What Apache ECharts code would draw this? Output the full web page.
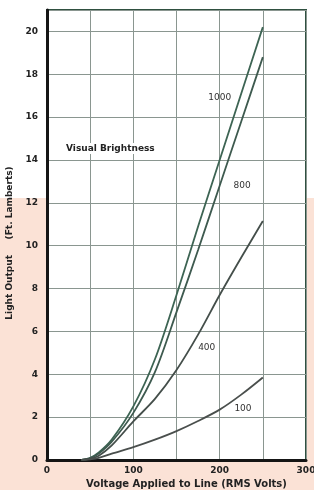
<!DOCTYPE html>
<html>
<head>
<meta charset="utf-8">
<script src="https://cdn.jsdelivr.net/npm/echarts@6/dist/echarts.min.js"></script>
<style>
  html, body { margin: 0; padding: 0; }
  #main { width: 314px; height: 490px; }
</style>
</head>
<body>
<div id="main"></div>
<script>
// voltage applied to line (RMS volts)
var voltage = [40, 50, 60, 75, 100, 125, 150, 175, 200, 225, 250];
// light output (ft. lamberts), one array per curve
var fc1000 = [0, 0.1, 0.35, 0.95, 2.5, 4.7, 7.7, 10.9, 14.0, 17.1, 20.2];
var fc800 = [0, 0.08, 0.3, 0.85, 2.2, 4.1, 6.9, 9.8, 12.8, 15.8, 18.8];
var fc400 = [0, 0.06, 0.2, 0.68, 1.8, 2.85, 4.2, 5.85, 7.7, 9.45, 11.15];
var fc100 = [0, 0.03, 0.1, 0.3, 0.6, 0.95, 1.35, 1.82, 2.35, 3.05, 3.85];
var curveNames = ['1000', '800', '400', '100'];
// where each curve's label sits, in chart units [volts, ft. lamberts]
var labelAt = [[200, 16.9], [226, 12.8], [185, 5.25], [227, 2.4]];

var font = 'DejaVu Sans';

function pairs(ys) {
    var out = [];
    for (var i = 0; i < voltage.length; i++) out.push([voltage[i], ys[i]]);
    return out;
}

function makeSeries(name, ys, color, idx) {
    return {
        name: name,
        type: 'line',
        data: pairs(ys),
        smooth: 0.3,
        showSymbol: false,
        lineStyle: { color: color, width: 1.8 },
        markPoint: {
            symbol: 'circle',
            symbolSize: 0,
            label: {
                show: true,
                position: 'inside',
                formatter: name,
                color: '#333',
                fontFamily: font,
                fontSize: 9
            },
            data: [{ coord: labelAt[idx] }]
        },
        z: 3
    };
}

var myChart = echarts.init(document.getElementById('main'));

var option = {
    animation: false,
    backgroundColor: {
        type: 'linear', x: 0, y: 0, x2: 0, y2: 1,
        colorStops: [
            { offset: 0, color: '#ffffff' },
            { offset: 0.405, color: '#ffffff' },
            { offset: 0.405, color: '#fbe2d6' },
            { offset: 1, color: '#fbe2d6' }
        ]
    },
    grid: {
        left: 47, right: 8, top: 10, bottom: 30,
        outerBoundsMode: 'none',
        containLabel: false,
        show: true,
        backgroundColor: '#ffffff',
        borderColor: '#2f5040',
        borderWidth: 2
    },
    graphic: [{
        type: 'text',
        left: 64,
        top: 143,
        z: 10,
        style: {
            text: 'Visual Brightness',
            fill: '#222',
            font: 'bold 9px "DejaVu Sans"',
            backgroundColor: '#fff',
            padding: [1, 2]
        }
    }],
    xAxis: {
        type: 'value',
        min: 0, max: 300, interval: 50,
        name: 'Voltage Applied to Line (RMS Volts)',
        nameLocation: 'middle',
        nameGap: 17,
        nameTextStyle: {
            color: '#222', fontFamily: font, fontWeight: 'bold', fontSize: 10,
            padding: [0, 0, 0, 20]
        },
        axisLine: { lineStyle: { color: '#151515', width: 3 } },
        axisTick: { show: false },
        axisLabel: {
            margin: 6,
            color: '#222', fontFamily: font, fontWeight: 'bold', fontSize: 9,
            formatter: function (v) { return v % 100 === 0 ? String(v) : ''; }
        },
        splitLine: { show: true, lineStyle: { color: '#8a9690', width: 1 } }
    },
    yAxis: {
        type: 'value',
        min: 0, max: 21, interval: 2,
        name: 'Light Output     (Ft. Lamberts)',
        nameLocation: 'middle',
        nameGap: 27,
        nameTextStyle: {
            color: '#222', fontFamily: font, fontWeight: 'bold', fontSize: 9,
            padding: [0, 16, 0, 0]
        },
        axisLine: { show: true, lineStyle: { color: '#151515', width: 3 } },
        axisTick: { show: false },
        axisLabel: {
            margin: 9,
            showMaxLabel: false,
            color: '#222', fontFamily: font, fontWeight: 'bold', fontSize: 9
        },
        splitLine: { show: true, lineStyle: { color: '#8a9690', width: 1 } }
    },
    series: [
        makeSeries(curveNames[0], fc1000, '#3d6453', 0),
        makeSeries(curveNames[1], fc800, '#3e5a4f', 1),
        makeSeries(curveNames[2], fc400, '#444e4a', 2),
        makeSeries(curveNames[3], fc100, '#4a4f4d', 3)
    ]
};

myChart.setOption(option);
</script>
</body>
</html>
